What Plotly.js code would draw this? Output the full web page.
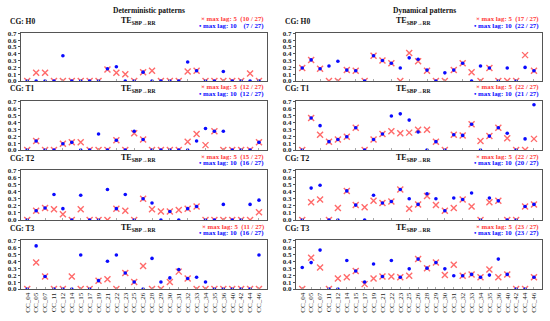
<!DOCTYPE html>
<html><head><meta charset="utf-8">
<script src="https://cdn.plot.ly/plotly-3.0.1.min.js"></script>
<style>body{margin:0;background:#fff}#c{width:550px;height:321px}</style>
</head><body><div id="c"></div>
<script>
const cats = ["CC_04","CC_05","CC_07","CC_11","CC_12","CC_14","CC_15","CC_17","CC_19","CC_21","CC_22","CC_23","CC_25","CC_26","CC_28","CC_29","CC_30","CC_31","CC_32","CC_33","CC_34","CC_35","CC_36","CC_40","CC_42","CC_44","CC_46"];
const yTicks = [0,0.1,0.2,0.3,0.4,0.5,0.6,0.7];
const rowNames = ["H0","T1","T2","T3"];
const colTitles = ["Deterministic patterns","Dynamical patterns"];

const detH0_5  = [0,.12,.12,0,0,0,0,0,0,.17,.12,.10,0,.13,.15,0,0,0,.14,.15,0,0,0,0,0,.11,0];
const detH0_10 = [0,0,0,0,.37,0,0,0,0,.18,.21,0,0,.13,0,0,0,0,.28,.15,0,0,.14,0,0,0,0];
const dynH0_5  = [.19,.31,.18,0,0,.16,.15,0,.37,.30,.26,0,.41,.29,.15,0,0,.16,.26,.13,0,.19,0,0,0,.38,.15];
const dynH0_10 = [.19,.31,.18,.22,.29,.16,.15,0,.37,.30,.26,.19,.34,.32,.16,0,.12,.16,.26,0,.22,.19,0,.19,0,.20,.15];

const detT1_5  = [0,.13,0,0,.09,.11,.11,0,0,0,.14,0,.24,.15,0,0,0,0,.12,.23,.07,.27,0,0,0,0,.11];
const detT1_10 = [0,.13,0,0,.09,.11,0,0,.23,0,.14,0,.27,.15,0,0,0,0,0,.13,.31,.27,.27,0,0,0,.11];
const dynT1_5  = [0,.46,.22,.12,.15,.19,.32,0,.15,.23,.27,.24,.25,.29,.29,.12,0,.22,.21,.37,.13,.20,.32,.17,0,0,.16];
const dynT1_10 = [0,.46,.35,.12,.15,.19,.32,0,.15,.23,.49,.52,.43,.26,0,.12,0,.22,.21,.37,0,.20,.32,.24,0,.16,.65];

const detT2_5  = [0,.13,.17,.15,.08,0,.15,0,0,0,.16,.13,0,.30,.15,.12,.12,.14,.16,.19,0,0,0,0,0,0,.11];
const detT2_10 = [0,.13,.17,.36,.16,0,.35,0,0,.43,.16,.36,0,.30,.24,0,.12,0,.16,.19,0,0,.22,0,0,.22,.28];
const dynT2_5  = [0,.25,.29,0,.17,.41,.21,.18,.27,.24,.26,.43,.16,.22,.34,.21,.13,.17,.29,.19,0,.25,.27,0,0,.19,.22];
const dynT2_10 = [0,.45,.49,0,0,.41,.21,0,.35,.24,.26,.43,.30,.22,.37,.30,.13,.31,.29,.38,0,.31,.27,0,0,.19,.22];

const detT3_5  = [0,.38,.18,0,0,.18,0,0,.12,.14,0,.23,.10,.33,0,0,.10,.25,.15,0,0,0,0,0,0,0,0];
const detT3_10 = [0,.62,.18,0,0,0,.49,0,.12,.40,.49,.23,.10,0,.44,.10,.16,.28,.15,.17,.10,0,0,0,0,0,.49];
const dynT3_5  = [0,.45,.31,0,.15,.17,.26,.07,.15,.18,.18,.17,.19,.43,.30,.38,.20,.35,.19,.21,.17,.28,.17,.21,0,0,.17];
const dynT3_10 = [.31,.38,.56,0,0,.41,.26,.10,.36,.18,.41,.17,.29,.43,.30,.38,.29,.19,.19,.21,.17,.20,.43,.21,0,0,.17];

const lag5Counts  = [["10","17"],["12","22"],["15","22"],["11","23"]];
const lag10Counts = [["7","22"],["12","21"],["16","20"],["16","23"]];

const panels = [
  [detH0_5, detH0_10, dynH0_5, dynH0_10],
  [detT1_5, detT1_10, dynT1_5, dynT1_10],
  [detT2_5, detT2_10, dynT2_5, dynT2_10],
  [detT3_5, detT3_10, dynT3_5, dynT3_10]
];

const W = 550, H = 321;
const px = x => x / W, py = y => 1 - y / H;
const colX = [[21, 267], [296, 542]];
const rowY = [[33, 81], [101, 150], [170, 220], [240, 289]];
const FF = "Liberation Serif, Times New Roman, serif";
const RED = "#ff3b3b", REDM = "#ff6a6a", BLUE = "#0a0aff";

const data = [];
const layout = {
  width: W, height: H, margin: {l:0, r:0, t:0, b:0},
  paper_bgcolor: "#fff", plot_bgcolor: "#fff", showlegend: false,
  annotations: []
};
const NB = "\u00a0";
for (let r = 0; r < 4; r++) {
  for (let c = 0; c < 2; c++) {
    const k = r * 2 + c + 1;
    const xa = "x" + (k === 1 ? "" : k), ya = "y" + (k === 1 ? "" : k);
    const xk = "xaxis" + (k === 1 ? "" : k), yk = "yaxis" + (k === 1 ? "" : k);
    const v5 = panels[r][c * 2], v10 = panels[r][c * 2 + 1];
    data.push({x: cats, y: v5, xaxis: xa, yaxis: ya, type: "scatter", mode: "markers",
      marker: {symbol: "x-thin-open", size: 6, line: {color: REDM, width: 1.4}, color: REDM}});
    data.push({x: cats, y: v10, xaxis: xa, yaxis: ya, type: "scatter", mode: "markers",
      marker: {symbol: "circle", size: 3.6, color: BLUE}});
    layout[xk] = {
      domain: [px(colX[c][0]), px(colX[c][1])], anchor: ya, type: "category",
      range: [-0.7, 26.9], showgrid: false, zeroline: false,
      showline: true, mirror: true, linecolor: "#555", linewidth: 1,
      ticks: "inside", ticklen: 2, tickcolor: "#aaa",
      showticklabels: r === 3, tickangle: -90,
      tickfont: {family: FF, size: 7, color: "#222"}
    };
    layout[yk] = {
      domain: [py(rowY[r][1]), py(rowY[r][0])], anchor: xa,
      range: [0, 0.705], tickvals: yTicks, ticktext: yTicks.map(v => v.toFixed(1)),
      showgrid: false, zeroline: false, showline: true, mirror: true,
      linecolor: "#555", linewidth: 1, ticks: "outside", ticklen: 2, tickcolor: "#555",
      tickfont: {family: FF, size: 7, color: "#222", weight: 700}
    };
    const cgY = rowY[r][0] - 12;
    layout.annotations.push({xref: "paper", yref: "paper", x: px(colX[c][0] - 13), y: py(cgY),
      xanchor: "left", yanchor: "middle", showarrow: false, text: "CG: " + rowNames[r],
      font: {family: FF, size: 7.5, color: "#111", weight: 700}});
    layout.annotations.push({xref: "paper", yref: "paper", x: px(colX[c][0] + 118), y: py(cgY),
      xanchor: "center", yanchor: "middle", showarrow: false,
      text: "TE<sub>SBP\u2192RR</sub>",
      font: {family: FF, size: 8, color: "#111", weight: 700}});
    layout.annotations.push({xref: "paper", yref: "paper", x: px(colX[c][1] - 1), y: py(cgY - 1.5),
      xanchor: "right", yanchor: "middle", showarrow: false,
      text: "\u00d7 max lag: 5" + NB + NB + "(" + lag5Counts[r][c] + " / 27)",
      font: {family: FF, size: 6.8, color: RED, weight: 700}});
    layout.annotations.push({xref: "paper", yref: "paper", x: px(colX[c][1] - 1), y: py(cgY + 5),
      xanchor: "right", yanchor: "middle", showarrow: false,
      text: "\u2022 max lag: 10" + NB + NB + (lag10Counts[r][c].length < 2 ? NB + NB : "") + "(" + lag10Counts[r][c] + " / 27)",
      font: {family: FF, size: 6.8, color: BLUE, weight: 700}});
  }
}
for (let c = 0; c < 2; c++) {
  layout.annotations.push({xref: "paper", yref: "paper", x: px((colX[c][0] + colX[c][1]) / 2 + 5), y: py(10.5),
    xanchor: "center", yanchor: "middle", showarrow: false, text: colTitles[c],
    font: {family: FF, size: 7.5, color: "#111", weight: 700}});
}
Plotly.newPlot("c", data, layout, {staticPlot: true});
</script></body></html>
